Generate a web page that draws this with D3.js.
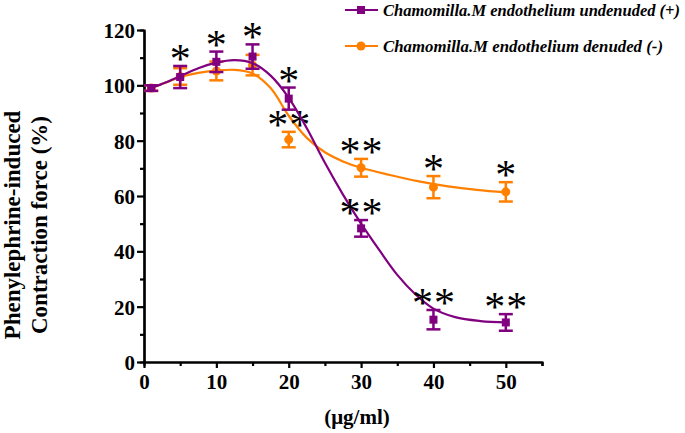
<!DOCTYPE html>
<html>
<head>
<meta charset="utf-8">
<script src="https://cdn.jsdelivr.net/npm/d3@7"></script>
<style>
  body { margin: 0; background: #fff; }
  svg text { font-family: "Liberation Serif", "Times New Roman", serif; }
</style>
</head>
<body>
<script>
// data ---------------------------------------------------------------
var doses = [1, 5, 10, 15, 20, 30, 40, 50];

// endothelium undenuded (+)
var undenudedMean = [99, 103, 108.5, 110.4, 95.2, 48.3, 15.3, 14.3];
var undenudedErr  = [1, 4, 3.7, 4.4, 4, 3, 3.5, 3];
var undenudedStars = [0, 1, 1, 1, 1, 2, 2, 2];

// endothelium denuded (-)
var denudedMean = [99, 103.2, 105.2, 107.3, 80.4, 70.2, 63.2, 61.5];
var denudedErr  = [1, 3, 3.4, 3.7, 2.8, 3.2, 4, 3.5];
var denudedStars = [0, 0, 0, 0, 2, 2, 1, 1];

// fitted curves
var undenudedFitX = [1, 3, 5, 7.5, 10, 12.5, 15, 17.5, 20, 22.5, 25, 27.5, 30, 32.5, 35, 37.5, 40, 43, 46.5, 50];
var undenudedFitY = [99, 101, 103.3, 106.2, 108.2, 109.1, 108, 103.5, 95.5, 84.5, 72, 60.5, 50, 40.5, 31.5, 24.5, 19.3, 16.2, 14.8, 14.3];
var denudedFitX = [1, 3, 5, 7.5, 10, 12.5, 15, 17.5, 20, 22.5, 25, 27.5, 30, 34, 38, 42, 46, 50];
var denudedFitY = [99, 101, 103, 104.5, 105.3, 105.6, 104.3, 99, 89, 81, 75.8, 72.5, 70.2, 67.6, 65.3, 63.5, 62.2, 61.3];

var xTicks = [0, 10, 20, 30, 40, 50];
var yTicks = [0, 20, 40, 60, 80, 100, 120];

var purple = "#800080";
var orange = "#FF8000";

// svg -----------------------------------------------------------------
var W = 685, H = 433;
var margin = {top: 30, right: 143, bottom: 71, left: 144},
    w = W - margin.left - margin.right,
    h = H - margin.top - margin.bottom;

var svg = d3.select("body").append("svg")
    .attr("width", W)
    .attr("height", H);

var g = svg.append("g")
    .attr("transform", "translate(" + margin.left + "," + margin.top + ")");

var xScale = d3.scaleLinear().domain([0, 55]).range([0, w]);
var yScale = d3.scaleLinear().domain([0, 120]).range([h, 0]);

// axes ------------------------------------------------------------------
// minor ticks first, then major with labels
g.append("g")
    .attr("class", "axis")
    .attr("transform", "translate(0," + h + ")")
    .call(d3.axisBottom(xScale).tickValues([5, 15, 25, 35, 45, 55]).tickSize(4).tickFormat(""));
var xAxis = g.append("g")
    .attr("class", "axis")
    .attr("transform", "translate(0," + h + ")")
    .call(d3.axisBottom(xScale).tickValues(xTicks).tickSize(6).tickSizeOuter(0).tickPadding(6));

g.append("g")
    .attr("class", "axis")
    .call(d3.axisLeft(yScale).tickValues([10, 30, 50, 70, 90, 110]).tickSize(4).tickFormat(""));
var yAxis = g.append("g")
    .attr("class", "axis")
    .call(d3.axisLeft(yScale).tickValues(yTicks).tickSize(7).tickSizeOuter(0).tickPadding(2));

g.selectAll(".axis path, .axis line")
    .attr("stroke", "#000")
    .attr("stroke-width", 2.2);
g.selectAll(".axis text")
    .attr("font-family", "Liberation Serif, serif")
    .attr("font-weight", "bold")
    .attr("font-size", 21)
    .attr("fill", "#000");
yAxis.selectAll("text").attr("dy", "0.36em");

// axis titles
svg.append("text")
    .attr("x", 357)
    .attr("y", 424)
    .attr("text-anchor", "middle")
    .attr("font-weight", "bold")
    .attr("font-size", 21)
    .text("(\u03bcg/ml)");

var yTitle = svg.append("text")
    .attr("transform", "translate(0,225) rotate(-90)")
    .attr("text-anchor", "middle")
    .attr("font-weight", "bold")
    .attr("font-size", 23);
yTitle.append("tspan").attr("x", 0).attr("y", 20).text("Phenylephrine-induced");
yTitle.append("tspan").attr("x", 0).attr("y", 47).text("Contraction force (%)");

// series ----------------------------------------------------------------
var line = d3.line()
    .x(function(d) { return xScale(d[0]); })
    .y(function(d) { return yScale(d[1]); })
    .curve(d3.curveCatmullRom.alpha(0.5));

function drawSeries(fitX, fitY, mean, err, stars, color, marker) {
  var fit = fitX.map(function(x, i) { return [x, fitY[i]]; });
  g.append("path")
      .datum(fit)
      .attr("fill", "none")
      .attr("stroke", color)
      .attr("stroke-width", 2.2)
      .attr("d", line);

  var pts = doses.map(function(d, i) {
    return {x: d, y: mean[i], e: err[i], s: stars[i]};
  });

  var eb = g.append("g").attr("stroke", color).attr("stroke-width", 2.5);
  pts.forEach(function(p) {
    var cx = xScale(p.x);
    eb.append("line").attr("x1", cx).attr("x2", cx)
        .attr("y1", yScale(p.y + p.e)).attr("y2", yScale(p.y - p.e));
    [p.y + p.e, p.y - p.e].forEach(function(v) {
      eb.append("line").attr("x1", cx - 7).attr("x2", cx + 7)
          .attr("y1", yScale(v)).attr("y2", yScale(v));
    });
  });

  if (marker == "square") {
    g.selectAll(null).data(pts).enter().append("rect")
        .attr("x", function(d) { return xScale(d.x) - 4; })
        .attr("y", function(d) { return yScale(d.y) - 4; })
        .attr("width", 8).attr("height", 8)
        .attr("fill", color);
  } else {
    g.selectAll(null).data(pts).enter().append("circle")
        .attr("cx", function(d) { return xScale(d.x); })
        .attr("cy", function(d) { return yScale(d.y); })
        .attr("r", 4.5)
        .attr("fill", color);
  }

  // significance stars above the error bars
  pts.forEach(function(p) {
    if (!p.s) return;
    var cx = xScale(p.x);
    var cy = yScale(p.y + p.e) - 12;
    var offs = p.s == 2 ? [-11, 11] : [0];
    offs.forEach(function(o) {
      g.append("text")
          .attr("x", cx + o)
          .attr("y", cy + 19)
          .attr("text-anchor", "middle")
          .attr("font-size", 42)
          .attr("fill", "#000")
          .text("*");
    });
  });
}

drawSeries(denudedFitX, denudedFitY, denudedMean, denudedErr, denudedStars, orange, "circle");
drawSeries(undenudedFitX, undenudedFitY, undenudedMean, undenudedErr, undenudedStars, purple, "square");

// legend ------------------------------------------------------------------
var legendItems = [
  {label: "Chamomilla.M endothelium undenuded (+)", color: purple, marker: "square", y: 10, len: 297},
  {label: "Chamomilla.M endothelium denuded (-)", color: orange, marker: "circle", y: 46, len: 280}
];
legendItems.forEach(function(it) {
  var lg = svg.append("g");
  lg.append("line").attr("x1", 345).attr("x2", 378).attr("y1", it.y).attr("y2", it.y)
      .attr("stroke", it.color).attr("stroke-width", 2.2);
  if (it.marker == "square") {
    lg.append("rect").attr("x", 357).attr("y", it.y - 4).attr("width", 8).attr("height", 8).attr("fill", it.color);
  } else {
    lg.append("circle").attr("cx", 361).attr("cy", it.y).attr("r", 4.5).attr("fill", it.color);
  }
  lg.append("text").attr("x", 383).attr("y", it.y + 6)
      .attr("font-weight", "bold").attr("font-style", "italic")
      .attr("font-size", 16.5).attr("fill", "#000")
      .attr("textLength", it.len).attr("lengthAdjust", "spacingAndGlyphs")
      .text(it.label);
});
</script>
</body>
</html>
